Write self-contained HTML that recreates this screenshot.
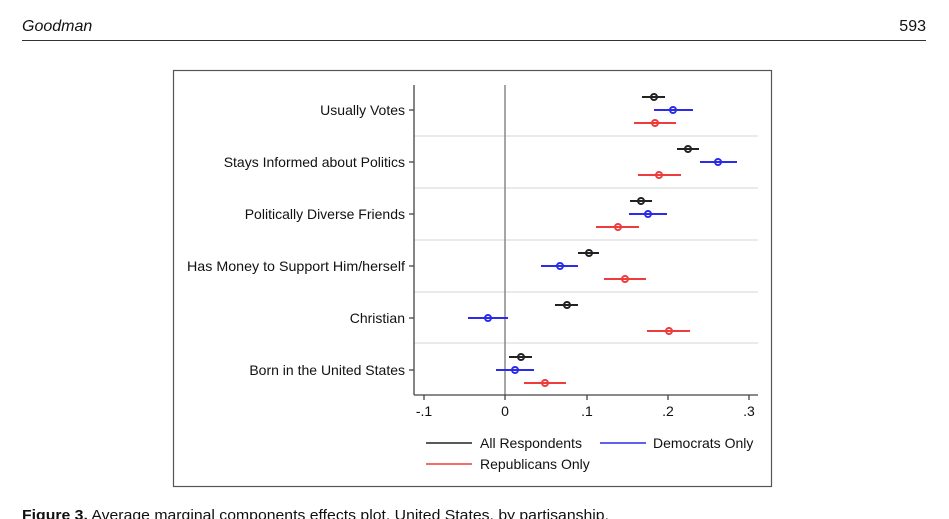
<!DOCTYPE html>
<html><head><meta charset="utf-8"><style>
html,body{margin:0;padding:0;background:#fff;}
svg{display:block;}
</style></head><body>
<svg width="949" height="519" viewBox="0 0 949 519" xmlns="http://www.w3.org/2000/svg" font-family="Liberation Sans, sans-serif">
<text x="22" y="31" font-size="16" font-style="italic" fill="#111">Goodman</text>
<text x="926" y="31" font-size="16" fill="#111" text-anchor="end">593</text>
<line x1="22" y1="40.5" x2="926" y2="40.5" stroke="#333" stroke-width="1"/>
<rect x="173.5" y="70.5" width="598" height="416" fill="#fff" stroke="#555" stroke-width="1.2"/>
<g stroke="#e3e3e3" stroke-width="1.5">
<line x1="414" y1="136" x2="758" y2="136"/><line x1="414" y1="188" x2="758" y2="188"/>
<line x1="414" y1="240" x2="758" y2="240"/><line x1="414" y1="292" x2="758" y2="292"/>
<line x1="414" y1="343" x2="758" y2="343"/>
</g>
<line x1="505" y1="85" x2="505" y2="395" stroke="#888" stroke-width="1.5"/>
<g stroke="#444" stroke-width="1.3">
<line x1="414" y1="85" x2="414" y2="395"/><line x1="414" y1="395" x2="758" y2="395"/>
<line x1="409" y1="110" x2="414" y2="110"/><line x1="409" y1="162" x2="414" y2="162"/>
<line x1="409" y1="214" x2="414" y2="214"/><line x1="409" y1="266" x2="414" y2="266"/>
<line x1="409" y1="318" x2="414" y2="318"/><line x1="409" y1="370" x2="414" y2="370"/>
<line x1="424" y1="395" x2="424" y2="400"/><line x1="505" y1="395" x2="505" y2="400"/>
<line x1="587" y1="395" x2="587" y2="400"/><line x1="668" y1="395" x2="668" y2="400"/>
<line x1="749" y1="395" x2="749" y2="400"/>
</g>
<g font-size="14" fill="#111" text-anchor="end">
<text x="405" y="115">Usually Votes</text>
<text x="405" y="167">Stays Informed about Politics</text>
<text x="405" y="219">Politically Diverse Friends</text>
<text x="405" y="271" textLength="218" lengthAdjust="spacingAndGlyphs">Has Money to Support Him/herself</text>
<text x="405" y="323">Christian</text>
<text x="405" y="375">Born in the United States</text>
</g>
<g font-size="14" fill="#111" text-anchor="middle">
<text x="424" y="416">-.1</text><text x="505" y="416">0</text><text x="587" y="416">.1</text>
<text x="668" y="416">.2</text><text x="749" y="416">.3</text>
</g>
<g stroke-width="2" fill="none">
<g stroke="#222">
<line x1="642" y1="97" x2="665" y2="97"/><circle cx="654" cy="97" r="3"/>
<line x1="677" y1="149" x2="699" y2="149"/><circle cx="688" cy="149" r="3"/>
<line x1="630" y1="201" x2="652" y2="201"/><circle cx="641" cy="201" r="3"/>
<line x1="578" y1="253" x2="599" y2="253"/><circle cx="589" cy="253" r="3"/>
<line x1="555" y1="305" x2="578" y2="305"/><circle cx="567" cy="305" r="3"/>
<line x1="509" y1="357" x2="532" y2="357"/><circle cx="521" cy="357" r="3"/>
</g>
<g stroke="#2b2be8">
<line x1="654" y1="110" x2="693" y2="110"/><circle cx="673" cy="110" r="3"/>
<line x1="700" y1="162" x2="737" y2="162"/><circle cx="718" cy="162" r="3"/>
<line x1="629" y1="214" x2="667" y2="214"/><circle cx="648" cy="214" r="3"/>
<line x1="541" y1="266" x2="578" y2="266"/><circle cx="560" cy="266" r="3"/>
<line x1="468" y1="318" x2="508" y2="318"/><circle cx="488" cy="318" r="3"/>
<line x1="496" y1="370" x2="534" y2="370"/><circle cx="515" cy="370" r="3"/>
</g>
<g stroke="#ee3b3b">
<line x1="634" y1="123" x2="676" y2="123"/><circle cx="655" cy="123" r="3"/>
<line x1="638" y1="175" x2="681" y2="175"/><circle cx="659" cy="175" r="3"/>
<line x1="596" y1="227" x2="639" y2="227"/><circle cx="618" cy="227" r="3"/>
<line x1="604" y1="279" x2="646" y2="279"/><circle cx="625" cy="279" r="3"/>
<line x1="647" y1="331" x2="690" y2="331"/><circle cx="669" cy="331" r="3"/>
<line x1="524" y1="383" x2="566" y2="383"/><circle cx="545" cy="383" r="3"/>
</g>
</g>
<g stroke-width="1.6">
<line x1="426" y1="443" x2="472" y2="443" stroke="#222"/>
<line x1="600" y1="443" x2="646" y2="443" stroke="#2b2be8"/>
<line x1="426" y1="464" x2="472" y2="464" stroke="#ee3b3b"/>
</g>
<g font-size="14" fill="#111">
<text x="480" y="448">All Respondents</text>
<text x="653" y="448">Democrats Only</text>
<text x="480" y="469">Republicans Only</text>
</g>
<text x="22" y="520" font-size="15" fill="#111" textLength="587" lengthAdjust="spacingAndGlyphs"><tspan font-weight="bold">Figure 3.</tspan> Average marginal components effects plot, United States, by partisanship.</text>
</svg>
</body></html>
